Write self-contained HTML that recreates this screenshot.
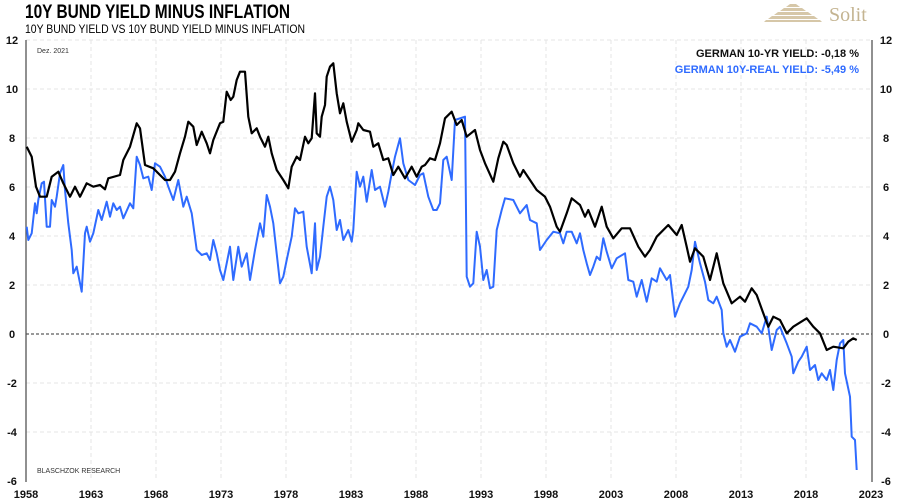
<!DOCTYPE html>
<html><head><meta charset="utf-8"><style>
body{margin:0;background:#fff;width:900px;height:503px;overflow:hidden;font-family:"Liberation Sans",sans-serif}
svg{position:absolute;left:0;top:0}
</style></head><body>
<svg width="900" height="503" viewBox="0 0 900 503">
<text x="25" y="18" font-family="Liberation Sans Narrow, Liberation Sans, sans-serif" font-weight="bold" font-size="19" textLength="265" lengthAdjust="spacingAndGlyphs">10Y BUND YIELD MINUS INFLATION</text>
<text x="25" y="33" font-family="Liberation Sans Narrow, Liberation Sans, sans-serif" font-size="12" textLength="280" lengthAdjust="spacingAndGlyphs">10Y BUND YIELD VS 10Y BUND YIELD MINUS INFLATION</text>
<g fill="#d6c7a8">
<polygon points="790,4 796,4 800,7 786,7"/>
<polygon points="784,8 802,8 806,11 780,11"/>
<polygon points="778,12 808,12 812,15 774,15"/>
<polygon points="772,16 814,16 818,19 768,19"/>
<polygon points="766,20 820,20 822,22 764,22"/>
</g>
<text x="829" y="21" font-family="Liberation Serif, serif" font-size="20" fill="#c4b491">Solit</text>
<g stroke="#e4e4e4" stroke-dasharray="4,3" stroke-width="1">
<line x1="26" y1="40" x2="872" y2="40"/><line x1="26" y1="89" x2="872" y2="89"/><line x1="26" y1="138" x2="872" y2="138"/><line x1="26" y1="187" x2="872" y2="187"/><line x1="26" y1="236" x2="872" y2="236"/><line x1="26" y1="285" x2="872" y2="285"/><line x1="26" y1="383" x2="872" y2="383"/><line x1="26" y1="432" x2="872" y2="432"/>
<line x1="91" y1="40" x2="91" y2="481"/><line x1="156" y1="40" x2="156" y2="481"/><line x1="221" y1="40" x2="221" y2="481"/><line x1="286" y1="40" x2="286" y2="481"/><line x1="351" y1="40" x2="351" y2="481"/><line x1="416" y1="40" x2="416" y2="481"/><line x1="481" y1="40" x2="481" y2="481"/><line x1="546" y1="40" x2="546" y2="481"/><line x1="611" y1="40" x2="611" y2="481"/><line x1="676" y1="40" x2="676" y2="481"/><line x1="741" y1="40" x2="741" y2="481"/><line x1="806" y1="40" x2="806" y2="481"/>
</g>
<line x1="26" y1="334" x2="872" y2="334" stroke="#333" stroke-dasharray="3,2" stroke-width="1"/>
<line x1="26" y1="40" x2="26" y2="482" stroke="#555" stroke-width="1.3"/>
<line x1="872" y1="40" x2="872" y2="482" stroke="#555" stroke-width="1.3"/>
<g font-size="11" font-weight="bold" fill="#111">
<text x="12" y="44" text-anchor="middle">12</text><text x="12" y="93" text-anchor="middle">10</text><text x="12" y="142" text-anchor="middle">8</text><text x="12" y="191" text-anchor="middle">6</text><text x="12" y="240" text-anchor="middle">4</text><text x="12" y="289" text-anchor="middle">2</text><text x="12" y="338" text-anchor="middle">0</text><text x="12" y="387" text-anchor="middle">-2</text><text x="12" y="436" text-anchor="middle">-4</text><text x="12" y="485" text-anchor="middle">-6</text>
<text x="886" y="44" text-anchor="middle">12</text><text x="886" y="93" text-anchor="middle">10</text><text x="886" y="142" text-anchor="middle">8</text><text x="886" y="191" text-anchor="middle">6</text><text x="886" y="240" text-anchor="middle">4</text><text x="886" y="289" text-anchor="middle">2</text><text x="886" y="338" text-anchor="middle">0</text><text x="886" y="387" text-anchor="middle">-2</text><text x="886" y="436" text-anchor="middle">-4</text><text x="886" y="485" text-anchor="middle">-6</text>
<text x="26" y="498" text-anchor="middle">1958</text><text x="91" y="498" text-anchor="middle">1963</text><text x="156" y="498" text-anchor="middle">1968</text><text x="221" y="498" text-anchor="middle">1973</text><text x="286" y="498" text-anchor="middle">1978</text><text x="351" y="498" text-anchor="middle">1983</text><text x="416" y="498" text-anchor="middle">1988</text><text x="481" y="498" text-anchor="middle">1993</text><text x="546" y="498" text-anchor="middle">1998</text><text x="611" y="498" text-anchor="middle">2003</text><text x="676" y="498" text-anchor="middle">2008</text><text x="741" y="498" text-anchor="middle">2013</text><text x="806" y="498" text-anchor="middle">2018</text><text x="871" y="498" text-anchor="middle">2023</text>
</g>
<text x="37" y="53" font-size="7" fill="#333">Dez. 2021</text>
<text x="37" y="473" font-size="7" fill="#333">BLASCHZOK RESEARCH</text>
<text x="859" y="57" font-size="11" font-weight="bold" text-anchor="end" fill="#111" font-family="Liberation Sans Narrow, Liberation Sans, sans-serif">GERMAN 10-YR YIELD: -0,18 %</text>
<text x="859" y="73" font-size="11" font-weight="bold" text-anchor="end" fill="#2f6bff" font-family="Liberation Sans Narrow, Liberation Sans, sans-serif">GERMAN 10Y-REAL YIELD: -5,49 %</text>
<polyline fill="none" stroke="#2f6bff" stroke-width="2" stroke-linejoin="round" points="26.7,226.7 28.3,240 31.7,233.3 35,203.3 36.7,213.3 38.3,200 41.7,183.3 44,181.7 46.7,226.7 50,226.7 51.7,200 55,206.7 56.7,196.7 60,173.3 63.3,165 65,190 68.3,223.3 71.7,250 73.3,273.3 76.7,266.7 81.7,291.7 85,233.3 86.7,226.7 90,241.7 93.3,233.3 98.3,210 101.7,220 106.7,201.7 110,216.7 113.3,203.3 116.7,210 120,206.7 123.3,218.3 130,203.3 133.3,208.3 136.7,156.7 140,165 143.3,178.3 148.3,176.7 151.7,190 155,163.3 160,166.7 165,176.7 168.3,186.7 173.3,200 178.3,180 183.3,206.7 186.7,196.7 191.7,213.3 196.7,250 201.7,255 206.7,253.3 210,260 213.3,240 216.7,253.3 220,270 223.3,280 226.7,263.3 230,246.7 233.3,280 238.3,246.7 241.7,266.7 246.7,253.3 250,280 255,250 260,223.3 263.3,236.7 266.7,195 270,206.7 273.3,223.3 280,283.3 283.3,276.7 286.7,260 291.7,236.7 295,208.3 298.3,213.3 303.3,211.7 306.7,246.7 311.7,273.3 315,223.3 316.7,270 320,256.7 323.3,226.7 326.7,196.7 330,186.7 333.3,200 336.7,230 340,220 343.3,240 348.3,230 351.7,241.7 353.3,230 356.7,171.7 360,186.7 363.3,176.7 366.7,201.7 371.7,170 375,190 380,186.7 385,206.7 388.3,191.7 391.7,173.3 395,156.7 400,138.3 403.3,163.3 408.3,180 415,185 420,175 423.3,173.3 428.3,196.7 433.3,210 436.7,210 440,203.3 443.3,160 446.7,156.7 451.7,180 455,120 465,116.7 466.7,276.7 470,286.7 473.3,283.3 476.7,231.7 480,246.7 483.3,280 486.7,270 490,288.3 493.3,286.7 496.7,230 501.7,210 505,198.3 513.3,200 520,213.3 526.7,205 530,220 536.7,223.3 540,250 546.7,240 553.3,231.7 560,233.3 563.3,243.3 566.7,231.7 571.7,231.7 576.7,243.3 580,233.3 583.3,250 586.7,263.3 590,275 593.3,266.7 596.7,256.7 600,260 603.3,238.3 606.7,251.7 611.7,268.3 616.7,258.3 625,253.3 628.3,280 633.3,281.7 636.7,296.7 641.7,280 646.7,301.7 651.7,278.3 656.7,281.7 660,268.3 666.7,280 670,275 675,316.7 680,303.3 688.3,286.7 691.7,270 695,241.7 700,263.3 705,281.7 708.3,300 713.3,303.3 716.7,296.7 721.7,310 723.3,333.3 726.7,346.7 730,340 735,351.7 740,336.7 746.7,333.3 750,323.3 756.7,326.7 761.7,333.3 766.7,316.7 771.7,350 776.7,330 780,326.7 783.3,335 786.7,343.3 791.7,356.7 793.3,373.3 798.3,361.7 801.7,356.7 806.7,346.7 810,370 815,365 818.3,380 821.7,373.3 826.7,380 830,370 833.3,390 836.7,360 840,343.3 843.3,340 845,373.3 850,396.7 851.7,436.7 855,440 856.7,470"/>
<polyline fill="none" stroke="#000" stroke-width="2.2" stroke-linejoin="round" points="26.7,146.7 31.7,156.7 36,186.7 40,196.7 46.7,196.7 51.7,176.7 58.3,171.7 63.3,183.3 70,196.7 75,186.7 80,196.7 86.7,183.3 93.3,186.7 100,185 105,189.3 108.3,178.3 120,175 123.3,160 130,146.7 136.7,123.3 140,128.3 145,165 153.3,168.3 160,175 165,180 170,180 175,171.7 180,153.3 185,136.7 188.3,121.7 193.3,126.7 196.7,145 201.7,131.7 206.7,143.3 210,153.3 213.3,140 220,123.3 223.3,121.7 226.7,91.7 230.7,100 233.3,96.7 236.7,80 240,71.7 245,71.7 248.3,116.7 251.7,133.3 256.7,128.3 260,136.7 265,146.7 268.3,136.7 271.7,153.3 276.7,170 283.3,180 288.3,188.3 291.7,166.7 296.7,156.7 300,160 305,136.7 308.3,143.3 311.7,138.3 313.3,116.7 315,93.3 316.7,133.3 320,136.7 321.7,116.7 325,105 326.7,76.7 330,66.7 333.3,63.3 336.7,93.3 340,113.3 343.3,103.3 346.7,121.7 351.7,141.7 356.7,130 358.3,123.3 363.3,130 370,131.7 373.3,146.7 378.3,143.3 383.3,160 388.3,158.3 393.3,175 398.3,166.7 405,178.3 411.7,166.7 416.7,176.7 421.7,166.7 425,165 430,158.3 435,160 440,143.3 445,118.3 451.7,111.7 456.7,125 461.7,120 466.7,136.7 475,130 480,150 485,163.3 493.3,181.7 498.3,158.3 503.3,141.7 506.7,145 513.3,163.3 520,176.7 523.3,170 530,180 536.7,190 545,196.7 550,206.7 556.7,226.7 560,231.7 566.7,213.3 571.7,198.3 580,205 585,216.7 588.3,210 595,226.7 601.7,206.7 606.7,226.7 613.3,238.3 621.7,228.3 630,228.3 638.3,246.7 645,256.7 650,250 656.7,236.7 668.3,225 676.7,235 681.7,225 686.7,246.7 690,261.7 695,248.3 703.3,256.7 710,280 716.7,253.3 723.3,283.3 731.7,303.3 740,296.7 745,301.7 751.7,288.3 756.7,295 763.3,313.3 768.3,326.7 773.3,316.7 780,320 786.7,333.3 793.3,326.7 806.7,318.3 813.3,326.7 820,333.3 826.7,350 833.3,346.7 843.3,348.3 848.3,341.7 853.3,338.3 856.7,340"/>
</svg>
</body></html>
